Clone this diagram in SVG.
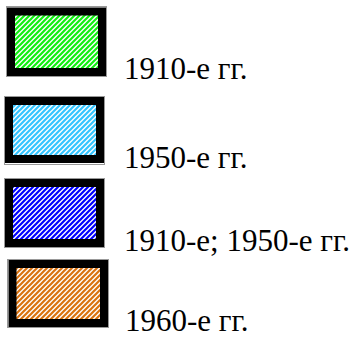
<svg xmlns="http://www.w3.org/2000/svg" width="363" height="340" viewBox="0 0 363 340">
<defs>
<pattern id="pg" patternUnits="userSpaceOnUse" width="5" height="5"><rect width="5" height="5" fill="#fff"/><path d="M-1.25,1.25 l2.5,-2.5 M0,5 l5,-5 M3.75,6.25 l2.5,-2.5" stroke="#11ee11" stroke-width="2.2"/></pattern>
<pattern id="pc" patternUnits="userSpaceOnUse" width="5" height="5"><rect width="5" height="5" fill="#fff"/><path d="M-1.25,1.25 l2.5,-2.5 M0,5 l5,-5 M3.75,6.25 l2.5,-2.5" stroke="#33c4ff" stroke-width="2.2"/></pattern>
<pattern id="pb" patternUnits="userSpaceOnUse" width="5" height="5"><rect width="5" height="5" fill="#fff"/><path d="M-1.25,1.25 l2.5,-2.5 M0,5 l5,-5 M3.75,6.25 l2.5,-2.5" stroke="#0000ff" stroke-width="2.2"/></pattern>
<pattern id="po" patternUnits="userSpaceOnUse" width="5" height="5"><rect width="5" height="5" fill="#fff"/><path d="M-1.25,1.25 l2.5,-2.5 M0,5 l5,-5 M3.75,6.25 l2.5,-2.5" stroke="#d9720f" stroke-width="2.2"/></pattern>
</defs>
<style>
.frame{stroke:#000;stroke-width:8}
.edge{fill:none;stroke:#999;stroke-width:1}
.lbl{font-family:'Liberation Serif','Times New Roman',serif;font-size:31px;fill:#000}
</style>
<g id="item-1910">
<rect class="edge" x="6.5" y="6.5" width="100" height="70"/>
<rect class="frame" x="11" y="11.5" width="91" height="60.5" fill="url(#pg)"/>
<text class="lbl" font-family="Liberation Serif, serif" x="124" y="79">1910-е гг.</text>
</g>
<g id="item-1950">
<rect class="edge" x="4.5" y="96.5" width="100" height="68"/>
<rect class="frame" x="9" y="101" width="91" height="58" fill="url(#pc)"/>
<text class="lbl" font-family="Liberation Serif, serif" x="124" y="168">1950-е гг.</text>
</g>
<g id="item-1910-1950">
<rect class="edge" x="4.5" y="178.5" width="100" height="69"/>
<rect class="frame" x="9" y="183" width="91" height="60" fill="url(#pb)"/>
<text class="lbl" font-family="Liberation Serif, serif" x="124" y="251">1910-е; 1950-е гг.</text>
</g>
<g id="item-1960">
<rect class="edge" x="7.5" y="259.5" width="101" height="68"/>
<rect class="frame" x="12.5" y="264" width="91.5" height="59" fill="url(#po)"/>
<text class="lbl" font-family="Liberation Serif, serif" x="125" y="331">1960-е гг.</text>
</g>
</svg>
